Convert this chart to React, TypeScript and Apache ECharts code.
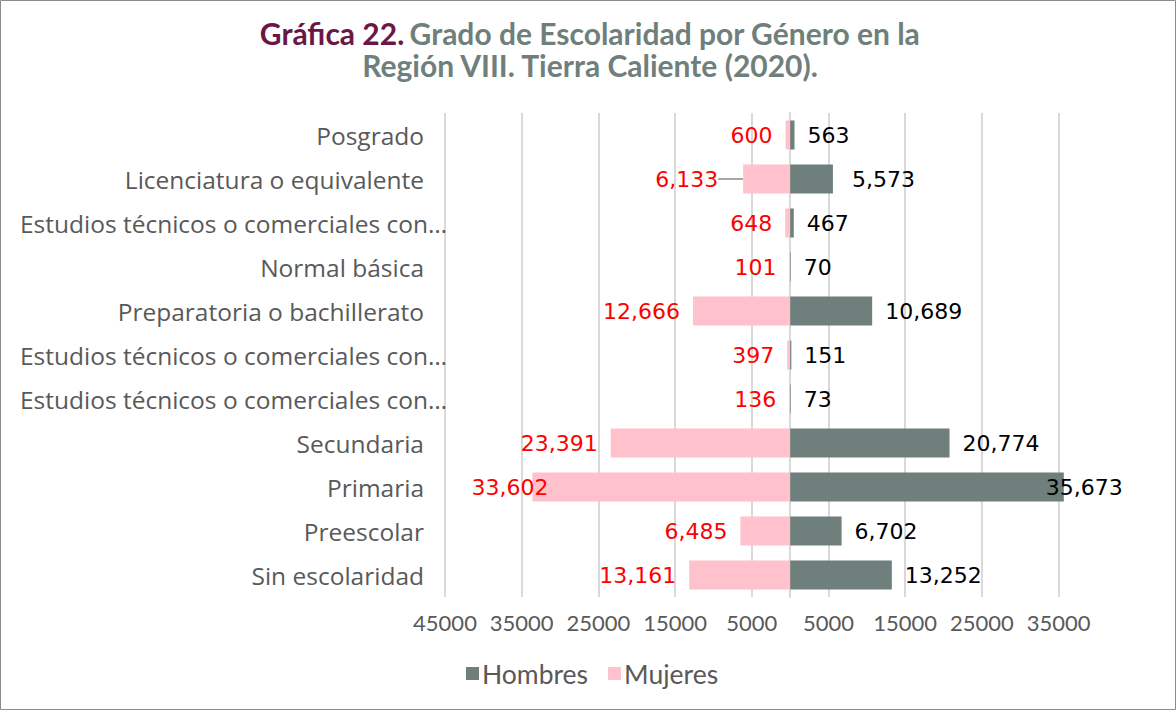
import React, { useEffect, useRef } from "react";
import * as echarts from "echarts";

const categories = [
  "Sin escolaridad",
  "Preescolar",
  "Primaria",
  "Secundaria",
  "Estudios técnicos o comerciales con primaria terminada",
  "Estudios técnicos o comerciales con secundaria terminada",
  "Preparatoria o bachillerato",
  "Normal básica",
  "Estudios técnicos o comerciales con preparatoria terminada",
  "Licenciatura o equivalente",
  "Posgrado",
];
const hombres = [13252, 6702, 35673, 20774, 73, 151, 10689, 70, 467, 5573, 563];
const mujeres = [13161, 6485, 33602, 23391, 136, 397, 12666, 101, 648, 6133, 600];
const seriesNames = ["Hombres", "Mujeres"];

const fmt = (v: number) => Math.abs(v).toLocaleString("en-US");
const catLabel = (v: string) =>
  v.length > 36 ? "{b|" + v.slice(0, 35) + "…}" : "{a|" + v + "}";

export default function App() {
  const ref = useRef<HTMLDivElement>(null);
  useEffect(() => {
    if (!ref.current) return;
    const chart = echarts.init(ref.current, null, { renderer: "svg" });
    const catFont = "Open Sans";
    const axFont = "Lato";
    chart.setOption({
      animation: false,
      backgroundColor: "#ffffff",
      title: {
        left: 585,
        top: 12,
        textAlign: "center",
        text:
          "{a|Gráfica 22.} {b|Grado de Escolaridad por Género en la}\n{b|Región VIII. Tierra Caliente (2020).}",
        textStyle: {
          rich: {
            a: { fontFamily: "Lato", fontWeight: "bold", fontSize: 30, color: "#6B1746", lineHeight: 32 },
            b: { fontFamily: "Lato", fontWeight: "bold", fontSize: 30, color: "#6F7F7C", lineHeight: 32 },
          },
        },
      },
      legend: {
        top: 655,
        left: 461,
        icon: "rect",
        itemWidth: 13,
        itemHeight: 13,
        itemGap: 20,
        data: seriesNames,
        textStyle: { fontFamily: axFont, fontSize: 26.5, color: "#595959", padding: [0, 0, 0, -2] },
      },
      grid: { left: 445, right: 79, top: 113, bottom: 113, containLabel: false },
      xAxis: {
        type: "value",
        min: -45000,
        max: 40000,
        interval: 10000,
        axisLine: { show: false },
        axisTick: { show: false },
        splitLine: { show: true, showMaxLine: false, lineStyle: { color: "#D9D9D9", width: 2 } },
        axisLabel: {
          showMaxLabel: false,
          margin: 14,
          fontFamily: axFont,
          fontSize: 22,
          color: "#595959",
          formatter: (v: number) => (v === 40000 ? "" : String(Math.abs(v))),
        },
      },
      yAxis: {
        type: "category",
        data: categories,
        axisLine: { show: true, onZero: true, lineStyle: { color: "#D9D9D9", width: 2 } },
        axisTick: { show: false },
        axisLabel: {
          margin: -2,
          formatter: catLabel,
          rich: {
            a: { fontFamily: catFont, fontSize: 24.5, color: "#595959", padding: [0, 23, 0, 0] },
            b: { fontFamily: catFont, fontSize: 24.5, color: "#595959" },
          },
        },
      },
      series: [
        {
          name: seriesNames[0],
          type: "bar",
          barGap: "-100%",
          barCategoryGap: "34%",
          itemStyle: { color: "#6F7F7C" },
          data: hombres.map((v, i) =>
            i === 2
              ? { value: v, label: { distance: -18 } }
              : i === 9
              ? { value: v, label: { distance: 19 } }
              : v
          ),
          label: {
            show: true,
            position: "right",
            distance: 13,
            fontFamily: "DejaVu Sans",
            fontSize: 22,
            color: "#000000",
            formatter: (p: any) => fmt(p.value),
          },
          z: 3,
        },
        {
          name: seriesNames[1],
          type: "bar",
          barGap: "-100%",
          barCategoryGap: "34%",
          itemStyle: { color: "#FFC2CD" },
          data: mujeres.map((v, i) =>
            i === 2
              ? { value: -v, label: { distance: -16 } }
              : i === 9
              ? { value: -v, labelLine: { show: true, lineStyle: { color: "#A6A6A6", width: 2 } } }
              : -v
          ),
          labelLayout: (p: any) => (p.dataIndex === 9 ? { dx: -12 } : {}),
          label: {
            show: true,
            position: "left",
            distance: 13,
            fontFamily: "DejaVu Sans",
            fontSize: 22,
            color: "#FF0000",
            formatter: (p: any) => fmt(p.value),
          },
          z: 2,
        },
      ],
      graphic: [
        {
          type: "rect",
          shape: { x: 0.5, y: 0.5, width: 1175, height: 709 },
          style: { fill: "none", stroke: "#8C8C8C", lineWidth: 1 },
          silent: true,
        },
      ],
    });
    return () => chart.dispose();
  }, []);
  return (
    <div
      ref={ref}
      style={{ position: "absolute", left: 0, top: 0, width: 1176, height: 710 }}
    />
  );
}
